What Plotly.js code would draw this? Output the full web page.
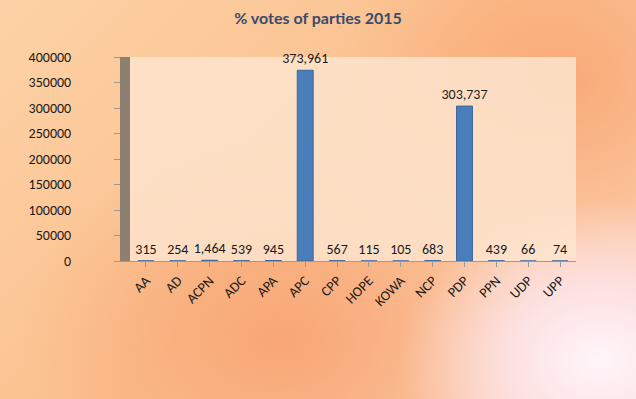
<!DOCTYPE html>
<html>
<head>
<meta charset="utf-8">
<script src="https://cdn.plot.ly/plotly-3.0.1.min.js"></script>
<style>
html,body{margin:0;padding:0;}
body{width:636px;height:399px;overflow:hidden;
background:
 radial-gradient(ellipse 200px 160px at 600px 360px, rgba(255,245,250,1) 0%, rgba(253,228,232,0.9) 45%, rgba(253,228,232,0) 100%),
 radial-gradient(ellipse 260px 200px at 280px 340px, rgba(248,166,118,1) 0%, rgba(248,166,118,0) 100%),
 radial-gradient(ellipse 220px 180px at 560px 80px, rgba(249,170,120,1) 0%, rgba(249,170,120,0) 100%),
 linear-gradient(135deg, #fdd2a6 0%, #fbc08e 50%, #fbd0b6 100%);}
#chart{width:636px;height:399px;}
</style>
</head>
<body>
<div id="chart"></div>
<script>
const parties = ["AA","AD","ACPN","ADC","APA","APC","CPP","HOPE","KOWA","NCP","PDP","PPN","UDP","UPP"];
const votes = [315,254,1464,539,945,373961,567,115,105,683,303737,439,66,74];
const yTicks = [0,50000,100000,150000,200000,250000,300000,350000,400000];

const fontFam = 'Carlito, "Open Sans", Lato, sans-serif';
const trace = {
  type:'bar', x:parties, y:votes,
  marker:{color:'#4a7ebb', line:{color:'#3a66a0', width:1}},
  width:0.5,
  texttemplate:'%{y:,}', textposition:'outside', cliponaxis:false,
  textfont:{family:fontFam, size:14, color:'#1a1a1a'}
};
const layout = {
  width:636, height:399,
  margin:{l:130, r:60, t:57, b:138},
  paper_bgcolor:'rgba(0,0,0,0)',
  plot_bgcolor:'rgba(253,228,206,0.85)',
  showlegend:false,
  uniformtext:{mode:'show', minsize:14},
  title:{text:'% votes of parties 2015', x:0.5, xanchor:'center', y:0.955, yanchor:'middle',
    font:{family:'Lato, "Open Sans", sans-serif', size:16, color:'#3b4a6b', weight:'bold'}},
  xaxis:{type:'category', tickangle:-45, showgrid:false, showline:true, linecolor:'#9a9a9a', linewidth:1,
    ticks:'outside', ticklen:5, tickcolor:'#9a9a9a',
    tickfont:{family:fontFam, size:14, color:'#1a1a1a'}},
  yaxis:{range:[0,400000], tickvals:yTicks, ticktext:yTicks.map(String), showgrid:false, zeroline:false,
    showline:true, linecolor:'#8e8070', linewidth:10, ticks:'outside', ticklen:6, tickcolor:'#9a9a9a',
    ticklabelstandoff:40,
    tickfont:{family:fontFam, size:14, color:'#1a1a1a'}}
};
Plotly.newPlot('chart',[trace],layout,{displayModeBar:false});
</script>
</body>
</html>
